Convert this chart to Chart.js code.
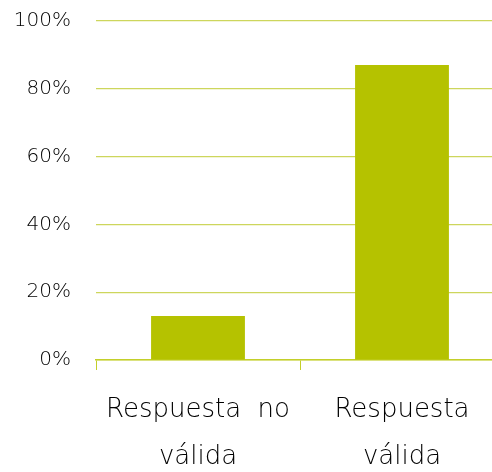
<!DOCTYPE html>
<html>
<head>
<meta charset="utf-8">
<script src="https://cdn.jsdelivr.net/npm/chart.js@4/dist/chart.umd.min.js"></script>
<style>
  html, body { margin: 0; padding: 0; background: #fff; overflow: hidden; }
  #wrap { position: relative; width: 520px; height: 472px; }
</style>
</head>
<body>
<div id="wrap"><canvas id="c"></canvas></div>
<script>
const categories = [["Respuesta  no", "válida"], ["Respuesta", "válida"]];
const values = [13, 87];
const yTicks = [0, 20, 40, 60, 80, 100];

const ctx = document.getElementById('c');
new Chart(ctx, {
  type: 'bar',
  data: {
    labels: categories,
    datasets: [{
      data: values,
      backgroundColor: '#b5c200',
      borderWidth: 0,
      barPercentage: 0.92,
      categoryPercentage: 0.5
    }]
  },
  options: {
    responsive: true,
    maintainAspectRatio: false,
    animation: false,
    layout: { padding: { top: 21, right: 16, left: 0, bottom: 0 } },
    plugins: { legend: { display: false }, tooltip: { enabled: false } },
    scales: {
      x: {
        offset: true,
        grid: {
          offset: true,
          drawOnChartArea: false,
          drawTicks: true,
          tickLength: 10,
          color: '#c3cf2a',
          lineWidth: 1
        },
        border: { display: true, color: '#c3cf2a', width: 1.5 },
        ticks: {
          color: '#000',
          font: { family: 'DejaVu Sans', size: 26, weight: 300, lineHeight: 1.8 },
          padding: 17,
          maxRotation: 0,
          autoSkip: false
        },
        afterFit: (s) => { s.height = 112; s.paddingLeft = 0; s.paddingRight = 0; }
      },
      y: {
        min: 0,
        max: 100,
        afterBuildTicks: (s) => { s.ticks = yTicks.map(v => ({ value: v })); },
        grid: { color: '#cdd65c', lineWidth: 1.2, drawTicks: false },
        border: { display: false },
        ticks: {
          color: '#000',
          font: { family: 'DejaVu Sans', size: 20, weight: 300 },
          padding: 25,
          callback: (v) => v + '%'
        },
        afterFit: (s) => { s.width = 96; s.paddingTop = 0; s.paddingBottom = 0; }
      }
    }
  }
});
</script>
</body>
</html>
